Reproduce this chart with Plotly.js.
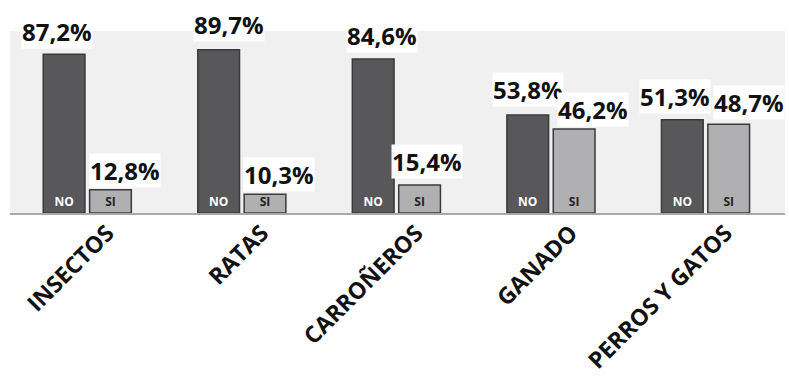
<!DOCTYPE html>
<html>
<head>
<meta charset="utf-8">
<script src="https://cdn.plot.ly/plotly-3.0.1.min.js"></script>
<style>html,body{margin:0;padding:0;background:#fff;}#chart{width:789px;height:378px;}</style>
</head>
<body>
<div id="chart"></div>
<script>
// Data
const categories = ["INSECTOS", "RATAS", "CARROÑEROS", "GANADO", "PERROS Y GATOS"];
const noValues = [87.2, 89.7, 84.6, 53.8, 51.3];
const siValues = [12.8, 10.3, 15.4, 46.2, 48.7];
const noLabel = "NO";
const siLabel = "SI";

// Label placement tweaks (pixels)
const noLabelDx = [-5, 13, 11, 3, -5];
const siLabelDx = [12, 12, 5, 17, 18];
const noLabelDy = [5, 8, 6, 8, 6];
const siLabelDy = [2, 2, 6, 2, 4];

const fmt = v => v.toFixed(1).replace('.', ',') + '%';

const barLine = {color: '#3a3a3a', width: 1.5};
const traces = [
  {
    type: 'bar', name: noLabel, x: categories, y: noValues,
    text: categories.map(() => noLabel), textposition: 'inside', insidetextanchor: 'start',
    textangle: 0, constraintext: 'none',
    textfont: {family: 'Open Sans', size: 12, color: '#ffffff', weight: 700},
    marker: {color: '#58585a', line: barLine}, hoverinfo: 'none'
  },
  {
    type: 'bar', name: siLabel, x: categories, y: siValues,
    text: categories.map(() => siLabel), textposition: 'inside', insidetextanchor: 'start',
    textangle: 0, constraintext: 'none',
    textfont: {family: 'Open Sans', size: 12, color: '#222222', weight: 700},
    marker: {color: '#b0b0b2', line: barLine}, hoverinfo: 'none'
  }
];

const annotations = [];
categories.forEach((c, i) => {
  annotations.push({x: c, y: noValues[i], xref: 'x', yref: 'y', text: fmt(noValues[i]),
    showarrow: false, yanchor: 'bottom', xanchor: 'center', xshift: -25.5 + noLabelDx[i], yshift: noLabelDy[i],
    bgcolor: '#ffffff', borderpad: 0,
    font: {family: 'Open Sans', size: 24, color: '#111111', weight: 700}});
  annotations.push({x: c, y: siValues[i], xref: 'x', yref: 'y', text: fmt(siValues[i]),
    showarrow: false, yanchor: 'bottom', xanchor: 'center', xshift: 25.5 + siLabelDx[i], yshift: siLabelDy[i],
    bgcolor: '#ffffff', borderpad: 0,
    font: {family: 'Open Sans', size: 24, color: '#111111', weight: 700}});
});

const layout = {
  width: 789, height: 378,
  margin: {l: 10, r: 4, t: 31, b: 165},
  paper_bgcolor: '#ffffff', plot_bgcolor: '#f0f0f0',
  barmode: 'group', bargap: 0.4, bargroupgap: 0.1,
  showlegend: false,
  xaxis: {
    tickangle: -45, showgrid: false, zeroline: false,
    showline: true, linecolor: '#a8a8a8', linewidth: 1.5,
    ticks: '', ticklabelshift: 20, ticklabelstandoff: -4,
    tickfont: {family: 'Open Sans', size: 23, color: '#111111', weight: 700}
  },
  yaxis: {range: [0, 100], visible: false, showgrid: false, zeroline: false, fixedrange: true},
  annotations: annotations
};

Plotly.newPlot('chart', traces, layout, {displayModeBar: false, staticPlot: true});
</script>
</body>
</html>
